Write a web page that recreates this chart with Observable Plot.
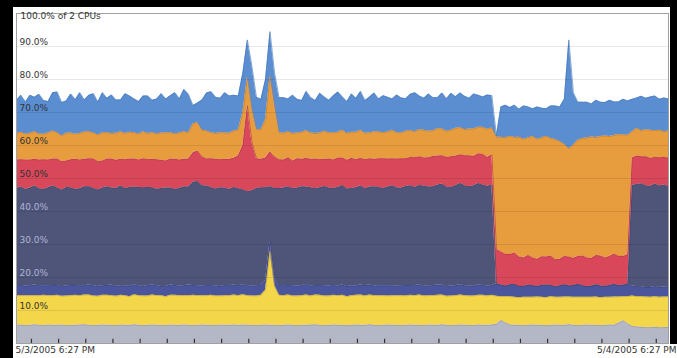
<!DOCTYPE html>
<html><head><meta charset="utf-8">
<script src="https://cdn.jsdelivr.net/npm/d3@7"></script>
<script src="https://cdn.jsdelivr.net/npm/@observablehq/plot@0.6"></script>
<style>
html,body{margin:0;padding:0;background:#000;width:677px;height:358px;overflow:hidden;}
#panel{position:absolute;left:13px;top:7px;width:657px;height:351px;background:#fff;}
#strip{position:absolute;left:13px;top:344px;width:664px;height:14px;background:#fff;}
#chart{position:absolute;left:0;top:0;}
</style></head><body>
<div id="panel"></div><div id="strip"></div><div id="chart"></div>
<script>
// Series (CPU % per layer, 10-minute samples, 145 points, bottom to top)
const seriesNames = ["gray", "yellow", "violet", "slate", "red", "orange", "blue"];

const layerGray = [
5.5,5.6,5.4,5.5,5.7,5.5,5.4,5.6,5.5,5.5, 5.6,5.4,5.5,5.5,5.6,5.7,5.5,5.4,5.5,5.6, 5.5,5.5,5.4,5.6,5.5,5.5,5.7,5.5,5.4,5.5, 5.6,5.5,5.5,5.4,5.6,5.5,5.5,5.6,5.5,5.4, 5.5,5.6,5.5,5.5,5.4,5.6,5.5,5.5,5.6,
5.5,5.6,5.5,5.5,5.4,5.5,5.6,5.5,5.5,5.4,
5.5,5.6,5.5,5.4,5.5,5.5,5.6,5.7,5.5,5.4, 5.5,5.6,5.5,5.5,5.4,5.5,5.6,5.5,5.5,5.7, 5.5,5.4,5.5,5.6,5.5,5.5,5.4,5.5,5.6,5.5, 5.5,5.4,5.6,5.5,5.5,5.7,5.5,5.4,5.5,5.6, 5.5,5.5,5.4,5.6,5.5,5.5,5.6,
5.8,7.0,6.2,5.6,5.5,5.5,5.4,5.5,5.6,5.5, 5.5,5.4,5.5,5.6,5.5,5.5,5.7,5.5,5.4,5.5, 5.6,5.5,5.5,5.4,5.5,5.6,5.5,6.2,6.9,5.9,
5.2,5.0,4.9,4.8,4.8,4.9,4.8,4.8,4.9];

const layerYellow = [
9.0,8.9,9.1,9.0,8.8,9.0,9.2,8.9,9.0,9.1, 8.7,9.0,9.0,9.1,8.9,9.0,9.2,9.0,8.8,9.0, 9.1,9.0,8.9,9.0,9.0,8.7,9.1,9.0,9.0,8.9, 9.1,9.0,9.0,8.8,9.0,9.1,9.0,8.9,9.0,9.2, 9.0,8.9,9.0,9.1,9.0,8.8,9.0,9.0,9.1,
9.0,9.2,9.0,8.9,9.0,9.1,10.5,22.5,12.0,9.2,
9.0,9.1,8.9,9.0,9.0,9.2,8.8,9.0,9.1,9.0, 8.9,9.0,9.0,9.1,8.8,9.0,9.0,9.2,8.9,9.0, 9.0,9.1,9.0,8.8,9.0,9.0,9.1,8.9,9.0,9.0, 9.2,9.0,8.9,9.0,9.1,9.0,8.8,9.0,9.0,9.1, 9.0,8.9,9.0,9.0,9.1,8.9,9.0,
8.5,7.2,8.0,8.6,8.5,8.4,8.6,8.5,8.4,8.6, 8.5,8.5,8.7,8.4,8.5,8.6,8.4,8.5,8.6,8.5, 8.4,8.5,8.6,8.5,8.5,8.4,8.6,7.9,7.3,8.3,
9.2,9.2,9.3,9.3,9.2,9.3,9.2,9.3,9.2];

const layerViolet = [
3.0,3.1,2.9,3.0,3.2,3.0,2.9,3.0,3.1,3.0, 2.9,3.0,3.1,3.0,3.0,2.8,3.0,3.1,3.0,2.9, 3.0,3.2,3.0,2.9,3.0,3.1,3.0,3.0,2.9,3.1, 3.0,3.0,2.8,3.0,3.1,3.0,2.9,3.0,3.2,3.0, 3.0,2.9,3.1,3.0,3.0,2.9,3.1,3.0,3.0,
3.0,3.0,3.0,3.0,3.1,3.0,2.9,3.0,3.0,3.0,
3.0,2.9,3.1,3.0,3.0,3.2,3.0,2.9,3.0,3.1, 3.0,3.0,2.9,3.1,3.0,3.0,2.8,3.0,3.1,3.0, 2.9,3.0,3.0,3.1,3.0,2.9,3.0,3.2,3.0,3.0, 3.1,2.9,3.0,3.0,3.1,3.0,2.9,3.0,3.0,3.1, 3.0,3.0,2.9,3.1,3.0,3.0,2.9,
3.8,3.5,3.2,3.6,3.9,3.4,3.3,3.7,3.5,3.2, 3.6,3.8,3.4,3.1,3.5,3.7,3.3,3.6,3.9,3.5, 3.2,3.4,3.7,3.5,3.3,3.6,3.8,3.4,3.5,3.7,
3.0,3.1,3.0,2.9,3.0,3.1,3.0,3.0,2.9];

const layerSlate = [
29.5,29.8,29.3,29.6,30.0,29.4,29.2,29.7,30.1,29.5, 29.3,29.9,29.6,29.1,29.4,30.0,29.8,29.5,29.2,29.6, 29.9,29.4,29.7,30.2,29.5,30.0,29.6,29.8,29.9,29.8, 29.5,29.2,29.7,29.9,29.4,29.1,29.6,30.0,29.7,31.3, 31.6,30.4,30.1,29.6,29.4,29.9,29.5,29.2,29.6,
29.4,28.8,28.5,28.9,29.5,29.6,28.2,16.5,26.5,29.4,
29.6,29.9,29.4,29.7,30.0,29.5,29.8,29.3,29.6,30.1, 29.7,29.4,29.9,30.2,29.6,29.5,29.8,30.0,29.4,29.7, 30.1,29.8,29.5,29.9,30.3,29.7,29.6,30.0,30.2,29.8, 30.1,30.4,29.9,30.0,30.3,30.6,30.2,29.9,30.4,30.7, 30.3,30.1,30.5,30.8,30.4,30.2,30.6,
0,0,0,0,0,0,0,0,0,0, 0,0,0,0,0,0,0,0,0,0, 0,0,0,0,0,0,0,0,0,0,
30.5,30.9,31.2,30.8,30.6,31.0,30.7,30.9,30.5];

const layerRed = [
8.6,8.3,8.9,8.5,8.1,8.7,9.0,8.4,8.2,8.8, 8.6,8.0,8.5,9.1,8.7,8.3,8.5,8.9,8.6,8.2, 8.4,8.8,8.5,8.1,8.7,8.6,8.5,8.3,8.8,8.4, 8.6,9.0,8.5,8.2,8.8,9.1,8.6,8.3,8.5,8.9, 9.2,8.7,8.2,8.8,9.0,8.5,8.7,9.1,8.8,
10.0,13.4,26.0,14.7,9.0,8.6,9.0,10.5,9.5,8.7,
8.5,8.8,8.4,8.9,8.3,8.7,8.6,9.0,8.5,8.2, 8.8,8.6,8.9,8.3,8.7,9.1,8.5,8.4,8.8,8.6, 8.3,8.7,9.0,8.5,8.2,8.8,8.9,8.4,8.6,9.0, 8.7,8.5,8.9,9.2,8.8,8.6,9.0,9.3,8.9,8.7, 9.1,9.4,8.9,9.0,9.3,8.8,9.1,
10.4,10.0,9.6,9.2,9.5,8.9,8.6,9.0,8.4,8.2, 8.7,8.5,8.9,8.3,8.0,8.6,8.8,8.2,8.5,9.0, 8.7,8.4,8.9,9.1,8.6,8.8,9.2,8.9,8.7,9.0,
8.3,8.6,8.2,8.8,8.5,8.1,8.6,8.4,8.7];

const layerOrange = [
8.0,8.3,7.8,8.1,8.4,7.9,7.7,8.2,8.5,8.0, 7.8,8.4,8.1,7.6,8.0,8.3,8.2,7.9,8.1,8.5, 8.0,7.7,8.2,8.4,7.9,8.1,8.0,7.8,8.2,7.9, 8.1,7.8,8.3,8.5,8.0,7.7,8.2,8.4,8.0,8.8, 8.6,8.1,8.5,7.9,7.8,8.2,8.0,7.9,8.3,
7.8,10.0,8.5,10.0,8.8,9.0,11.7,23.0,15.5,8.2,
8.1,7.9,8.3,7.8,8.2,8.4,8.0,7.7,8.1,8.5, 8.0,8.2,7.8,8.4,8.1,7.9,8.3,8.5,8.0,7.8, 8.4,8.1,7.9,8.2,8.6,8.0,7.8,8.3,8.1,7.9, 8.2,8.4,8.0,7.8,8.3,8.1,7.9,8.0,8.4,8.2, 7.9,8.1,8.3,8.0,8.2,8.5,8.1,
34.0,34.8,35.3,35.8,35.0,36.3,36.0,35.6,36.8,36.4, 36.0,36.6,35.6,36.4,35.7,34.0,32.8,34.3,35.2,35.6, 36.4,36.8,35.7,36.2,37.0,36.3,35.9,36.9,36.8,36.2,
8.0,8.4,7.9,8.2,8.5,8.1,8.3,7.8,8.2];

const layerBlue = [
10.0,11.2,9.8,11.5,10.4,12.0,10.2,9.5,11.6,12.3, 10.1,9.8,11.8,10.5,12.4,9.7,11.0,11.9,10.0,12.2, 10.4,11.7,10.1,9.6,12.1,11.0,10.2,9.9,10.8,11.4, 9.8,10.6,11.9,10.3,11.2,12.5,10.4,12.8,11.6,5.5, 6.0,9.2,11.5,12.4,11.0,10.4,12.2,11.3,10.8,
10.3,12.0,11.5,13.0,9.8,9.2,12.0,13.5,10.0,10.6,
10.8,9.9,11.6,10.2,9.6,11.9,10.7,10.0,12.0,10.4, 9.8,11.3,12.2,10.1,9.7,11.6,10.3,11.8,9.9,10.9, 11.7,10.0,11.2,10.5,9.5,11.4,10.6,9.9,11.0,11.8, 10.2,9.7,11.3,10.0,9.4,10.9,9.9,11.2,9.6,10.5, 10.1,9.3,10.6,9.7,9.2,10.4,9.8,
0.5,9.2,9.9,8.7,9.8,8.5,10.1,9.4,8.4,9.8, 9.0,8.3,9.9,10.2,10.5,13.6,33.0,15.9,11.5,11.0, 10.8,10.0,11.3,10.4,10.1,11.0,10.2,9.9,10.8,10.4,
9.8,9.2,10.4,9.5,10.1,10.5,9.4,10.2,9.7];

// Axis / text content
const titleText = "100.0% of 2 CPUs";
const yTickValues = [10, 20, 30, 40, 50, 60, 70, 80, 90];
const yTickLabels = ["10.0%", "20.0%", "30.0%", "40.0%", "50.0%", "60.0%", "70.0%", "80.0%", "90.0%"];
const dateLabels = ["5/3/2005 6:27 PM", "5/4/2005 6:27 PM"];

// Styles
const fills = {gray: "#b4b7c6", yellow: "#f4d64a", violet: "#4b559c", slate: "#4f5579",
               red: "#d8485a", orange: "#e79c3e", blue: "#5a8ed1"};
const edges = {gray: "#9196a8", yellow: "#c9aa2e", violet: "#3d4685", slate: "#434a6c",
               red: "#b53a4c", orange: "#c27d2c", blue: "#4a7bbd"};

const layers = {gray: layerGray, yellow: layerYellow, violet: layerViolet, slate: layerSlate,
                red: layerRed, orange: layerOrange, blue: layerBlue};

const start = new Date(Date.UTC(2005, 4, 3, 18, 27));
const end = new Date(Date.UTC(2005, 4, 4, 18, 27));
const times = layerGray.map((_, i) => new Date(start.getTime() + i * 10 * 60000));
const hourTicks = d3.utcHour.range(start, end);

const rows = seriesNames.flatMap(s => layers[s].map((v, i) => ({series: s, time: times[i], value: v})));
const bad = seriesNames.filter(s => layers[s].length !== 145).map(s => s + ":" + layers[s].length);

const chart = Plot.plot({
  width: 677, height: 358,
  marginLeft: 16, marginRight: 9, marginTop: 13, marginBottom: 15,
  style: {background: "transparent", fontFamily: "DejaVu Sans", fontSize: "9px"},
  x: {type: "utc", domain: [start, end], axis: null},
  y: {domain: [0, 100], axis: null},
  marks: [
    Plot.areaY(rows, Plot.stackY({x: "time", y: "value", z: "series", fill: d => fills[d.series]})),
    Plot.lineY(rows, Plot.stackY2({x: "time", y: "value", z: "series", stroke: d => edges[d.series], strokeWidth: 0.8, strokeOpacity: 0.8})),
    Plot.gridY(yTickValues, {stroke: "#000", strokeOpacity: 0.09}),
    Plot.frame({stroke: "#a0a0a0"}),
    Plot.ruleX(hourTicks, {y1: 0, y2: 1.3, stroke: "#333", strokeWidth: 1.2}),
    Plot.text(yTickValues, {y: d => d, text: (d, i) => yTickLabels[i], frameAnchor: "left", dx: 3, dy: -4,
      textAnchor: "start", fontSize: 9, fill: d => (d >= 20 && d <= 40) ? "#aeb4d6" : "#333"}),
    Plot.text([titleText], {frameAnchor: "top-left", dx: 4, dy: -1, textAnchor: "start", fontSize: 9, fill: "#333"}),
    Plot.text([dateLabels[0]], {frameAnchor: "bottom-left", dx: -1, dy: 9, textAnchor: "start", fontSize: 9, fill: "#333"}),
    Plot.text([dateLabels[1]], {frameAnchor: "bottom-right", dx: 8, dy: 9, textAnchor: "end", fontSize: 9, fill: "#333"}),
    ...(bad.length ? [Plot.text([bad.join(" ")], {frameAnchor: "middle", fontSize: 16, fill: "red"})] : [])
  ]
});
document.getElementById("chart").appendChild(chart);
</script></body></html>
